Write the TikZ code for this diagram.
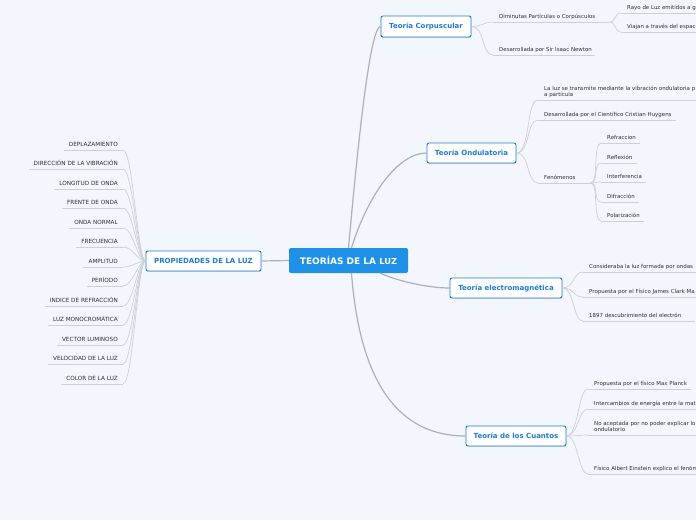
\documentclass[tikz,border=0pt]{standalone}
\usepackage{fontspec}
\setmainfont{DejaVu Sans}
\usetikzlibrary{calc,shadows}
\definecolor{bg}{HTML}{F3F6FD}
\definecolor{mainblue}{HTML}{1E90E6}
\definecolor{topicblue}{HTML}{1F7AD6}
\definecolor{conn}{HTML}{AEB0B6}
\definecolor{leafline}{HTML}{CDD0D6}
\definecolor{leaftext}{HTML}{2E2E2E}
\begin{document}
\begin{tikzpicture}[x=1pt,y=-1pt,
  central/.style={fill=mainblue, text=white, font=\fontsize{9}{9}\selectfont\bfseries, rounded corners=2pt, minimum height=25pt, inner xsep=0pt},
  topic/.style={draw=topicblue, line width=0.9pt, fill=white, text=topicblue, font=\fontsize{7}{7}\selectfont\bfseries, rounded corners=2pt, inner xsep=0pt, minimum height=20pt, drop shadow={shadow xshift=0.4pt, shadow yshift=-0.8pt, opacity=0.25}},
  leaf/.style={text=leaftext, font=\fontsize{5.45}{6.5}\selectfont, inner xsep=0pt, inner ysep=2.2pt, text depth=1pt, align=left, anchor=south west},
  lleaf/.style={text=leaftext, font=\fontsize{5.7}{6.5}\selectfont, inner xsep=0pt, inner ysep=2.4pt, text depth=1pt, anchor=south east},
  mainconn/.style={draw=conn, line width=1.2pt},
  subconn/.style={draw=leafline, line width=0.7pt},
  ul/.style={draw=leafline, line width=0.7pt},
]
\useasboundingbox (0,0) rectangle (696,520);
\clip (0,0) rectangle (696,520);
\fill[bg] (0,0) rectangle (696,520);

% main nodes
\node[central, minimum width=119pt] (root) at (348.5,260.5) {TEORÍAS DE LA {\fontsize{8.3}{8}\selectfont\raisebox{-0.7pt}{LUZ}}};
\node[topic, minimum width=90pt, minimum height=21pt] (tc) at (426,26.5) {Teoría Corpuscular};
\node[topic, minimum width=89pt] (to) at (471.5,153) {Teoría Ondulatoria};
\node[topic, minimum width=112pt] (te) at (506,288) {Teoría electromagnética};
\node[topic, minimum width=100pt] (tq) at (516,436) {Teoría de los Cuantos};
\node[topic, minimum width=115pt] (tp) at (203.5,261) {PROPIEDADES DE LA LUZ};

% main connectors
\draw[mainconn] (root.north) .. controls (360,120) and (371,27) .. (tc.west);
\draw[mainconn] ($(root.north)+(3,0)$) .. controls (368,195) and (398,153) .. (to.west);
\draw[mainconn] ($(root.south east)+(-28,0)$) .. controls (400,282) and (430,288) .. (te.west);
\draw[mainconn] ($(root.south)+(3,0)$) .. controls (360,385) and (400,436) .. (tq.west);
\draw[mainconn] (root.west) -- (tp.east);

% Corpuscular
\node[leaf] (c1) at (499,22) {Diminutas Partículas o Corpúsculos};
\node[leaf] (c11) at (627,13) {Rayo de Luz emitidos a g};
\node[leaf] (c12) at (627,32) {Viajan a través del espac};
\node[leaf] (c2) at (499,55) {Desarrollada por Sir Isaac Newton};
\draw[ul] ($(c1.south west)+(-6,0)$) -- ($(c1.south east)+(14,0)$);
\draw[ul] ($(c11.south west)+(-6,0)$) -- ($(c11.south east)+(6,0)$);
\draw[ul] ($(c12.south west)+(-6,0)$) -- ($(c12.south east)+(6,0)$);
\draw[ul] ($(c2.south west)+(-6,0)$) -- ($(c2.south east)+(3,0)$);
\draw[subconn] (tc.east) .. controls +(12,0) and +(-10,0) .. ($(c1.south west)+(-6,0)$);
\draw[subconn] (tc.east) .. controls +(14,0) and +(-12,0) .. ($(c2.south west)+(-6,0)$);
\draw[subconn] ($(c1.south east)+(14,0)$) .. controls +(7,0) and +(-7,0) .. ($(c11.south west)+(-6,0)$);
\draw[subconn] ($(c1.south east)+(14,0)$) .. controls +(7,0) and +(-7,0) .. ($(c12.south west)+(-6,0)$);

% Ondulatoria
\node[leaf] (o1) at (544,100) {La luz se transmite mediante la vibración ondulatoria p\\a partícula};
\node[leaf] (o2) at (544,120) {Desarrollada por el Científico Cristian Huygens};
\node[leaf] (o3) at (544,183) {Fenómenos};
\node[leaf] (o31) at (607,143) {Refraccion};
\node[leaf] (o32) at (607,163) {Reflexión};
\node[leaf] (o33) at (607,182) {Interferencia};
\node[leaf] (o34) at (607,202) {Difracción};
\node[leaf] (o35) at (607,221) {Polarización};
\foreach \n/\e in {o1/8,o2/4,o3/15,o31/4,o32/4,o33/4,o34/4,o35/4}
  \draw[ul] ($(\n.south west)+(-6,0)$) -- ($(\n.south east)+(\e,0)$);
\foreach \n in {o1,o2,o3}
  \draw[subconn] (to.east) .. controls +(14,0) and +(-12,0) .. ($(\n.south west)+(-6,0)$);
\foreach \n in {o31,o32,o33,o34,o35}
  \draw[subconn] ($(o3.south east)+(15,0)$) .. controls +(8,0) and +(-8,0) .. ($(\n.south west)+(-6,0)$);

% Electromagnetica
\node[leaf] (e1) at (589,272) {Consideraba la luz formada por ondas};
\node[leaf] (e2) at (589,297) {Propuesta por el Físico James Clark Ma};
\node[leaf] (e3) at (589,321) {1897 descubrimiento del electrón};
\foreach \n/\e in {e1/8,e2/8,e3/14}
  \draw[ul] ($(\n.south west)+(-6,0)$) -- ($(\n.south east)+(\e,0)$);
\foreach \n in {e1,e2,e3}
  \draw[subconn] (te.east) .. controls +(12,0) and +(-10,0) .. ($(\n.south west)+(-6,0)$);

% Cuantos
\node[leaf] (q1) at (594,389) {Propuesta por el físico Max Planck};
\node[leaf] (q2) at (594,409) {Intercambios de energía entre la mat};
\node[leaf] (q3) at (594,435) {No aceptada por no poder explicar lo\\ondulatorio};
\node[leaf] (q4) at (594,474) {Físico Albert Einstein explico el fenóm};
\foreach \n/\e in {q1/4,q2/8,q3/8,q4/8}
  \draw[ul] ($(\n.south west)+(-6,0)$) -- ($(\n.south east)+(\e,0)$);
\foreach \n in {q1,q2,q3,q4}
  \draw[subconn] (tq.east) .. controls +(12,0) and +(-10,0) .. ($(\n.south west)+(-6,0)$);

% Propiedades
\node[lleaf] (p1) at (118,150) {DEPLAZAMIENTO};
\node[lleaf] (p2) at (118,169) {DIRECCIÓN DE LA VIBRACIÓN};
\node[lleaf] (p3) at (118,189) {LONGITUD DE ONDA};
\node[lleaf] (p4) at (118,208) {FRENTE DE ONDA};
\node[lleaf] (p5) at (118,228) {ONDA NORMAL};
\node[lleaf] (p6) at (118,247) {FRECUENCIA};
\node[lleaf] (p7) at (118,267) {AMPLITUD};
\node[lleaf] (p8) at (118,286) {PERÍODO};
\node[lleaf] (p9) at (118,306) {INDICE DE REFRACCIÓN};
\node[lleaf] (p10) at (118,325) {LUZ MONOCROMÁTICA};
\node[lleaf] (p11) at (118,345) {VECTOR LUMINOSO};
\node[lleaf] (p12) at (118,364) {VELOCIDAD DE LA LUZ};
\node[lleaf] (p13) at (118,384) {COLOR DE LA LUZ};
\foreach \n in {p1,p2,p3,p4,p5,p6,p7,p8,p9,p10,p11,p12,p13}{
  \draw[ul] ($(\n.south west)+(-5,0)$) -- ($(\n.south east)+(5,0)$);
  \draw[subconn] ($(\n.south east)+(5,0)$) .. controls +(10,0) and +(-8,0) .. (tp.west);
}
\end{tikzpicture}
\end{document}
